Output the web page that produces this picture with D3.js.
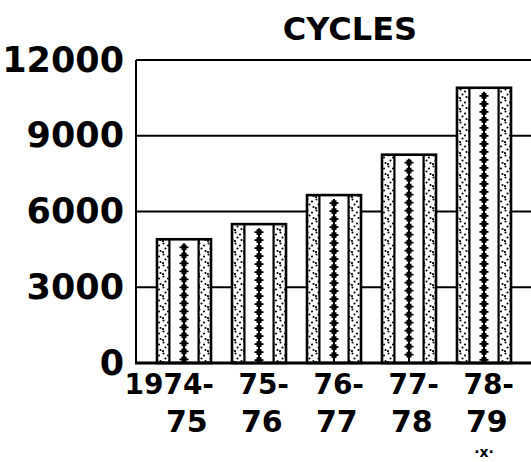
<!DOCTYPE html>
<html>
<head>
<meta charset="utf-8">
<script src="https://cdn.jsdelivr.net/npm/d3@7"></script>
<style>
  html, body { margin: 0; padding: 0; background: #fff; }
  svg { display: block; }
  text { font-family: "DejaVu Sans", sans-serif; font-weight: bold; fill: #000; }
</style>
</head>
<body>
<svg id="chart" width="531" height="462"></svg>
<script>
// ---- data ----
const categories = ["1974-75", "75-76", "76-77", "77-78", "78-79"];
const labelLine1 = ["1974-", "75-", "76-", "77-", "78-"];
const labelLine2 = ["75", "76", "77", "78", "79"];
const cycles = [4900, 5500, 6650, 8250, 10900];
const yTicks = [0, 3000, 6000, 9000, 12000];
const title = "CYCLES";

// ---- layout ----
const W = 531, H = 462;
const mLeft = 136, mTop = 60, mBottom = 363, mRight = 532;

const svg = d3.select("#chart");

const x = d3.scaleBand()
  .domain(categories)
  .range([mLeft, mRight])
  .paddingInner(0.28)
  .paddingOuter(0.28);

const y = d3.scaleLinear().domain([0, 12000]).range([mBottom, mTop]);

// dotted pattern for side stripes
const defs = svg.append("defs");
const pat = defs.append("pattern")
  .attr("id", "dots")
  .attr("patternUnits", "userSpaceOnUse")
  .attr("width", 9).attr("height", 11);
pat.append("rect").attr("width", 9).attr("height", 11).attr("fill", "#fff");
[[1.5, 1.5], [6, 3.5], [3.5, 6.5], [7.5, 9], [1, 10]].forEach(([cx, cy]) => {
  pat.append("circle").attr("cx", cx).attr("cy", cy).attr("r", 1.05).attr("fill", "#000");
});

// title
svg.append("text")
  .attr("x", 350).attr("y", 40)
  .attr("text-anchor", "middle")
  .attr("font-size", 32)
  .text(title);

// grid lines (behind bars)
svg.append("g").selectAll("line")
  .data(yTicks.filter(d => d > 0))
  .join("line")
  .attr("x1", mLeft).attr("x2", W)
  .attr("y1", d => y(d)).attr("y2", d => y(d))
  .attr("stroke", "#000").attr("stroke-width", 2);

// y axis labels via d3 axis
const yAxis = d3.axisLeft(y).tickValues(yTicks).tickSize(0).tickPadding(12).tickFormat(d3.format("d"));
const ya = svg.append("g").attr("transform", `translate(${mLeft},0)`).call(yAxis);
ya.select(".domain").remove();
ya.selectAll("text")
  .attr("font-size", 35)
  .attr("font-family", "DejaVu Sans, sans-serif")
  .attr("font-weight", "bold")
  .attr("fill", "#000")
  .attr("dy", "0.32em");

// left axis line
svg.append("line")
  .attr("x1", mLeft).attr("x2", mLeft)
  .attr("y1", y(12000)).attr("y2", y(0))
  .attr("stroke", "#000").attr("stroke-width", 2);

// bars
const bars = svg.append("g").selectAll("g.bar")
  .data(cycles.map((v, i) => ({ cat: categories[i], v })))
  .join("g").attr("class", "bar");

const bw = x.bandwidth();
const sL = 0.23, sR = 0.77;

bars.each(function(d) {
  const g = d3.select(this);
  const x0 = x(d.cat), yTop = y(d.v), h = y(0) - y(d.v);
  g.append("rect").attr("x", x0).attr("y", yTop).attr("width", bw).attr("height", h).attr("fill", "#fff");
  g.append("rect").attr("x", x0).attr("y", yTop).attr("width", bw * sL).attr("height", h).attr("fill", "url(#dots)");
  g.append("rect").attr("x", x0 + bw * sR).attr("y", yTop).attr("width", bw * (1 - sR)).attr("height", h).attr("fill", "url(#dots)");
  [sL, sR].forEach(f => {
    g.append("line")
      .attr("x1", x0 + bw * f).attr("x2", x0 + bw * f)
      .attr("y1", yTop).attr("y2", y(0))
      .attr("stroke", "#000").attr("stroke-width", 2.2);
  });
  const cx = x0 + bw * 0.5;
  g.append("line")
    .attr("x1", cx).attr("x2", cx)
    .attr("y1", yTop + 4).attr("y2", y(0))
    .attr("stroke", "#000").attr("stroke-width", 2);
  const ticks = d3.range(yTop + 8, y(0) - 2, 8);
  g.selectAll("path.tk").data(ticks).join("path")
    .attr("class", "tk")
    .attr("d", t => `M${cx - 4.5},${t} L${cx + 4.5},${t} M${cx - 1.6},${t - 2} L${cx + 1.6},${t - 2} L${cx + 1.6},${t + 2} L${cx - 1.6},${t + 2} Z`)
    .attr("stroke", "#000").attr("stroke-width", 1.8).attr("fill", "#000");
  g.append("rect").attr("x", x0).attr("y", yTop).attr("width", bw).attr("height", h)
    .attr("fill", "none").attr("stroke", "#000").attr("stroke-width", 2.6);
});

// top border and baseline
svg.append("line")
  .attr("x1", mLeft).attr("x2", W)
  .attr("y1", y(12000)).attr("y2", y(12000))
  .attr("stroke", "#000").attr("stroke-width", 2);
svg.append("line")
  .attr("x1", mLeft - 1).attr("x2", W)
  .attr("y1", y(0)).attr("y2", y(0))
  .attr("stroke", "#000").attr("stroke-width", 3.2);

// x labels (two lines)
const xl = svg.append("g");
xl.selectAll("text.l1").data(categories).join("text")
  .attr("class", "l1")
  .attr("x", (d) => x(d) + bw / 2 + 30)
  .attr("y", 394)
  .attr("text-anchor", "end")
  .attr("font-size", 28)
  .text((d, i) => labelLine1[i]);
xl.selectAll("text.l2").data(categories).join("text")
  .attr("class", "l2")
  .attr("x", (d) => x(d) + bw / 2 - 18)
  .attr("y", 432)
  .attr("text-anchor", "start")
  .attr("font-size", 30)
  .text((d, i) => labelLine2[i]);

// small mark under the last label
svg.append("text")
  .attr("x", x(categories[4]) + bw / 2).attr("y", 457)
  .attr("text-anchor", "middle")
  .attr("font-size", 14)
  .text("·x·");
</script>
</body>
</html>
